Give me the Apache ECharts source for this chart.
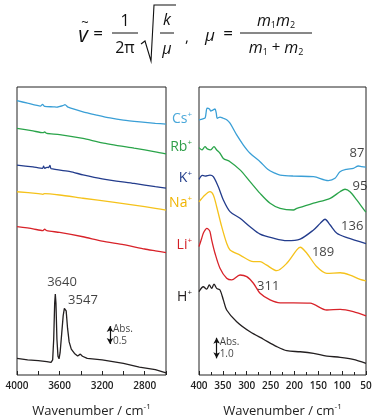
<!DOCTYPE html>
<html><head><meta charset="utf-8">
<script src="https://cdn.jsdelivr.net/npm/echarts/dist/echarts.min.js"></script>
<style>html,body{margin:0;padding:0;background:#fff}#c{width:378px;height:418px}</style>
</head><body><div id="c"></div>
<script>
// ---------- data (wavenumber / cm-1, absorbance offset a.u.) ----------
const cations = ['Cs', 'Rb', 'K', 'Na', 'Li', 'H'];
const lineColors = ['#3a9fd6', '#2aa44a', '#233c8c', '#f5c21b', '#d8232a', '#231f20'];
const labelColors = ['#4aa8da', '#2e9e48', '#233e8b', '#f0b400', '#d31f26', '#231f20'];

// left panel: 4000 - 2600 cm-1
const leftCs = [[4000,7.62],[3900,7.55],[3780,7.47],[3760,7.52],[3740,7.46],[3660,7.45],[3624,7.44],[3570,7.48],[3549,7.51],[3520,7.44],[3380,7.31],[3250,7.22],[3126,7.14],[3000,7.08],[2844,7.03],[2700,6.99],[2600,6.97]];
const leftRb = [[4000,6.85],[3850,6.78],[3756,6.73],[3740,6.75],[3720,6.71],[3600,6.68],[3380,6.57],[3200,6.45],[2900,6.30],[2700,6.20],[2600,6.14]];
const leftK  = [[4000,5.83],[3850,5.78],[3760,5.74],[3750,5.80],[3740,5.74],[3720,5.77],[3705,5.76],[3690,5.82],[3680,5.73],[3500,5.65],[3380,5.56],[3200,5.45],[2900,5.32],[2700,5.23],[2600,5.19]];
const leftNa = [[4000,5.09],[3800,5.04],[3756,5.02],[3740,5.04],[3600,5.00],[3380,4.91],[3100,4.80],[2900,4.72],[2700,4.63],[2600,4.58]];
const leftLi = [[4000,4.12],[3850,4.06],[3760,4.01],[3740,4.05],[3720,4.01],[3600,3.96],[3380,3.84],[3200,3.72],[3000,3.62],[2800,3.50],[2700,3.45],[2600,3.40]];
const leftH  = [[4000,0.46],[3900,0.42],[3800,0.40],[3720,0.37],[3680,0.35],[3665,0.42],[3655,1.0],[3646,2.0],[3640,2.25],[3634,2.0],[3625,1.0],[3615,0.52],[3605,0.45],[3595,0.62],[3580,1.15],[3566,1.65],[3555,1.85],[3547,1.88],[3538,1.78],[3525,1.30],[3510,0.92],[3490,0.72],[3460,0.60],[3430,0.53],[3405,0.58],[3385,0.52],[3340,0.46],[3200,0.42],[3000,0.32],[2850,0.22],[2700,0.15],[2600,0.06]];

// right panel: 400 - 50 cm-1
const rightCs = [[400,12.40],[392,12.45],[387,12.50],[383,12.97],[378,12.93],[375.5,12.83],[371,12.88],[366.5,12.93],[364,12.75],[361.6,12.48],[356,12.54],[349,12.48],[342,12.41],[335,12.24],[321,11.67],[307,11.18],[293,10.78],[272,10.37],[256,10.0],[241,9.81],[230,9.72],[202,9.67],[160,9.64],[129,9.45],[115,9.56],[104.5,9.88],[90.5,10.0],[76.6,10.05],[66,10.16],[59,10.13],[50,10.10]];
const rightRb = [[400,11.05],[394,10.94],[387.4,11.10],[382.6,10.99],[375.5,10.94],[368.6,11.10],[362.9,10.94],[356,10.78],[349,10.53],[335,10.37],[314,9.97],[293,9.40],[272,8.83],[251,8.35],[230,8.10],[202,8.02],[195,8.10],[160,8.35],[125,8.59],[104.5,8.91],[94,9.03],[83.5,8.91],[69.5,8.51],[52,7.97],[50,7.92]];
const rightK  = [[400,9.51],[393,9.70],[387.4,9.67],[377,9.72],[370,9.64],[359.5,9.15],[349,8.51],[335,7.94],[314,7.62],[293,7.21],[272,6.85],[244,6.65],[216,6.53],[188,6.61],[160,7.05],[146,7.37],[136,7.57],[125,7.29],[111,6.89],[90,6.68],[50,6.39]];
const rightNa = [[400,8.42],[387.4,8.75],[377,8.91],[370,8.75],[363,8.18],[352.4,7.21],[342,6.40],[335,6.08],[314,5.83],[286,5.51],[272,5.51],[259,5.35],[237,5.07],[216,5.43],[195,6.08],[188,6.21],[174,5.92],[153,5.26],[132,4.94],[104,4.97],[83.5,4.86],[62.5,4.65],[50,4.58]];
const rightLi = [[400,6.24],[395,6.60],[391,6.89],[387,7.05],[384,7.13],[380,7.08],[377,6.97],[373.4,6.56],[366.5,5.92],[356,5.19],[342,4.70],[331.5,4.62],[314,4.86],[300,4.78],[286,4.46],[272,3.97],[251,3.65],[230,3.51],[202,3.51],[167,3.49],[132,3.16],[104,3.19],[76.6,3.08],[50,2.87]];
const rightH  = [[400,4.05],[391,4.29],[384,4.17],[378.4,4.38],[373.4,4.21],[368.6,4.42],[363,4.21],[356,4.13],[349,3.65],[342,3.16],[321,2.59],[293,2.10],[265,1.74],[237,1.38],[216,1.18],[188,1.13],[160,1.05],[132,0.92],[104,0.86],[77,0.76],[50,0.57]];

// peak annotations [x, y, text]
const leftPeakLabels  = [[3577,2.58,'3640'],[3380,2.07,'3547']];
const rightPeakLabels = [[69,10.79,'87'],[62.5,9.19,'95'],[79,7.24,'136'],[140,5.95,'189'],[255,4.33,'311']];
// scale bars [x, y0, y1, text]
const leftScale  = [3126, 0.86, 1.36, 'Abs.\n0.5'];
const rightScale = [363, 0.81, 1.81, 'Abs.\n1.0'];
// axis ticks / labels
const leftTicks  = {min: 2600, max: 4000, interval: 200, labelEvery: 400};
const rightTicks = {min: 50, max: 400, interval: 50};
const axisTitle = 'Wavenumber / cm';
// ---------------------------------------------------------------

const F = '"Open Sans", "Noto Sans", sans-serif';
const TXT = '#111';
const leftSets = [leftCs, leftRb, leftK, leftNa, leftLi, leftH];
const rightSets = [rightCs, rightRb, rightK, rightNa, rightLi, rightH];

function xAxisCfg(gi, t, formatter, minor) {
  return {
    gridIndex: gi, type: 'value', inverse: true, min: t.min, max: t.max, interval: t.interval,
    axisLine: {show: false}, splitLine: {show: false},
    axisTick: {show: true, inside: true, length: 4, lineStyle: {color: '#222', width: 1}},
    minorTick: minor ? {show: true, splitNumber: 2, length: 3, lineStyle: {color: '#222', width: 1}} : {show: false},
    axisLabel: {show: true, formatter: formatter, fontSize: 10, fontWeight: 600, color: '#222', fontFamily: F, margin: 6, showMinLabel: true, showMaxLabel: true},
    name: axisTitle + '{s|-1}', nameLocation: 'middle', nameGap: 28,
    nameTextStyle: {fontSize: 13, color: '#222', fontFamily: F, rich: {s: {fontSize: 8, verticalAlign: 'top', color: '#222', fontFamily: F, lineHeight: 16}}}
  };
}

const series = [];
leftSets.forEach((d, i) => series.push({
  type: 'line', xAxisIndex: 0, yAxisIndex: 0, data: d, showSymbol: false, symbol: 'none',
  smooth: i === 5 ? false : 0.2, lineStyle: {color: lineColors[i], width: 1.3}, animation: false, silent: true
}));
rightSets.forEach((d, i) => series.push({
  type: 'line', xAxisIndex: 1, yAxisIndex: 1, data: d, showSymbol: false, symbol: 'none',
  smooth: 0.3, lineStyle: {color: lineColors[i], width: 1.3}, animation: false, silent: true
}));

function annot(ai, labels, scale) {
  return {
    type: 'scatter', xAxisIndex: ai, yAxisIndex: ai, symbolSize: 0, animation: false, silent: true,
    itemStyle: {color: 'transparent'},
    data: labels.map(p => ({value: [p[0], p[1]], name: p[2]})).concat([{
      value: [scale[0], (scale[1] + scale[2]) / 2], name: scale[3],
      label: {position: 'right', distance: 3, fontSize: 10, lineHeight: 12, align: 'left'}
    }]),
    label: {show: true, position: 'inside', formatter: p => p.name, fontSize: 13, color: TXT, fontFamily: F, textBorderWidth: 0, textBorderColor: 'transparent'},
    markLine: {
      silent: true, animation: false, symbol: ['arrow', 'arrow'], symbolSize: [5, 6],
      lineStyle: {color: TXT, width: 1.2, type: 'solid'}, label: {show: false},
      data: [[{coord: [scale[0], scale[1]]}, {coord: [scale[0], scale[2]]}]]
    }
  };
}
series.push(annot(0, leftPeakLabels, leftScale));
series.push(annot(1, rightPeakLabels, rightScale));

const cationY = [119, 147, 178, 203, 245, 297];
const graphic = cations.map((c, i) => ({
  type: 'text', silent: true,
  style: {x: 192, y: cationY[i], text: '{a|' + c + '}{b|+}', align: 'right', verticalAlign: 'middle',
    rich: {a: {fontSize: 14, fill: labelColors[i], fontFamily: F, lineHeight: 16},
           b: {fontSize: 8, fill: labelColors[i], fontFamily: F, verticalAlign: 'top', lineHeight: 16}}}
}));

// formula
const fS = {fill: TXT, fontFamily: F, align: 'center', verticalAlign: 'middle'};
function t(x, y, text, size, italic) {
  return {type: 'text', silent: true, style: Object.assign({}, fS, {x: x, y: y, text: text, fontSize: size, fontStyle: italic ? 'italic' : 'normal'})};
}
function hl(x1, x2, y) { return {type: 'line', silent: true, shape: {x1: x1, y1: y, x2: x2, y2: y}, style: {stroke: TXT, lineWidth: 1}}; }
const richMM = (s) => ({type: 'text', silent: true, style: Object.assign({}, fS, s, {
  rich: {m: {fontSize: 16, fontStyle: 'italic', fill: TXT, fontFamily: F, lineHeight: 18},
         s: {fontSize: 9, fill: TXT, fontFamily: F, verticalAlign: 'bottom', lineHeight: 18},
         p: {fontSize: 15, fill: TXT, fontFamily: F, lineHeight: 18}}})});
graphic.push(
  t(83, 36, 'v', 21, true),
  t(85, 23, '~', 13, false),
  t(98, 34, '=', 17, false),
  t(125, 21, '1', 16, false),
  hl(112, 138, 33),
  t(125, 48, '2π', 16, false),
  {type: 'polyline', silent: true, shape: {points: [[141, 44], [145, 41], [151, 61], [154, 5], [176, 5]]}, style: {stroke: TXT, lineWidth: 1.1, fill: null}},
  t(167, 20, 'k', 16, true),
  hl(160, 174, 33),
  t(167, 49, 'μ', 16, true),
  t(187, 38, ',', 15, false),
  t(210, 36, 'μ', 17, true),
  t(228, 34, '=', 17, false),
  hl(240, 312, 33),
  richMM({x: 276, y: 21, text: '{m|m}{s|1}{m|m}{s|2}'}),
  richMM({x: 276, y: 48, text: '{m|m}{s|1}{p| + }{m|m}{s|2}'})
);

const option = {
  backgroundColor: '#fff',
  animation: false,
  grid: [
    {left: 17, right: 212, top: 87, bottom: 43, show: true, borderColor: '#222', borderWidth: 1, backgroundColor: 'transparent', containLabel: false, outerBoundsMode: 'none'},
    {left: 199, right: 12, top: 87, bottom: 43, show: true, borderColor: '#222', borderWidth: 1, backgroundColor: 'transparent', containLabel: false, outerBoundsMode: 'none'}
  ],
  xAxis: [
    xAxisCfg(0, leftTicks, v => (v % leftTicks.labelEvery === 0 ? String(v) : ''), false),
    xAxisCfg(1, rightTicks, v => String(v), true)
  ],
  yAxis: [
    {gridIndex: 0, type: 'value', min: 0, max: 8, show: false},
    {gridIndex: 1, type: 'value', min: 0, max: 14, show: false}
  ],
  series: series,
  graphic: graphic
};
const chart = echarts.init(document.getElementById('c'), null, {renderer: 'canvas'});
chart.setOption(option);
</script></body></html>
